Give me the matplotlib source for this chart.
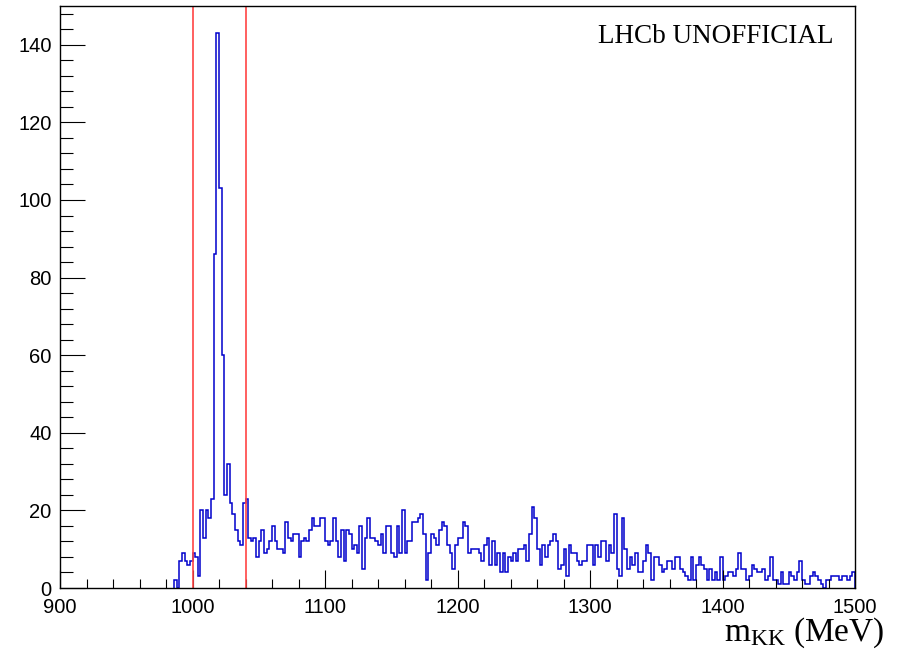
import numpy as np
import matplotlib
matplotlib.use('Agg')
import matplotlib.pyplot as plt
from matplotlib.ticker import MultipleLocator

# m_KK histogram, 2 MeV bins, first filled bin starts at 986 MeV
bin_start = 986
bin_width = 2

peak_counts = [2, 0, 7, 9, 7, 6, 7, 9, 8, 3, 20, 13, 20, 18, 23, 86, 143, 103, 60, 24,
               32, 22, 19, 15, 12, 11, 22, 23, 13]
counts_1044 = [12, 13, 8, 12, 15, 9, 10, 12, 16, 12, 10, 10, 9, 17, 13, 12, 14, 14, 8, 12,
               13, 12, 15, 18, 16, 16, 18, 18, 12, 11, 12, 18, 12]
counts_1110 = [8, 15, 7, 15, 14, 10, 11, 9, 16, 5, 13, 18, 13, 13, 12, 11, 14, 9, 16, 16,
               9, 8, 16, 9, 20, 9, 12]
counts_1164 = [12, 17, 17, 18, 19, 14, 2, 9, 14, 13, 11, 15, 17, 16, 11, 9, 5, 11, 13, 13,
               17, 16, 9, 10, 10, 10, 9, 7, 11, 13, 6]
counts_1226 = [12, 6, 9, 4, 9, 4, 8, 7, 9, 7, 10, 10, 11, 7, 14, 21, 18, 10, 6, 11,
               8, 11, 12, 14, 12, 5, 6, 10, 3, 11, 9, 9, 7]
counts_1292 = [6, 7, 7, 11, 11, 6, 11, 8, 12, 12, 7, 11, 9, 19, 5, 3, 18, 10, 5, 8,
               6, 9, 4, 4, 7, 11, 9]
counts_1346 = [2, 8, 8, 6, 4, 5, 7, 7, 5, 8, 8, 5, 4, 3, 2, 8, 2, 6, 8, 6,
               5, 2, 5, 2, 4, 2, 8, 2, 3, 4]
counts_1406 = [4, 3, 5, 9, 5, 5, 2, 3, 6, 5, 4, 4, 5, 2, 3, 8, 2, 2, 1, 4,
               1, 1, 4, 3, 2, 4, 7]
counts_1460 = [2, 1, 1, 3, 4, 3, 2, 1, 0, 2, 2, 3, 3, 3, 2, 3, 3, 2, 3, 4]

cut_lines = [1000, 1040]
x_range = (900, 1500)
y_range = (0, 150)

counts = np.array(peak_counts + counts_1044 + counts_1110 + counts_1164 + counts_1226
                  + counts_1292 + counts_1346 + counts_1406 + counts_1460)
edges = bin_start + bin_width * np.arange(len(counts) + 1)

fig = plt.figure(figsize=(8.99, 6.55), dpi=100)
ax = fig.add_axes([60 / 899, 67 / 655, 795 / 899, 582 / 655])

ax.stairs(counts, edges, baseline=0, color='#0000cc', linewidth=1.1)
for xc in cut_lines:
    ax.axvline(xc, color='#ff4444', linewidth=1.2)

ax.set_xlim(*x_range)
ax.set_ylim(*y_range)

ax.xaxis.set_major_locator(MultipleLocator(100))
ax.xaxis.set_minor_locator(MultipleLocator(20))
ax.yaxis.set_major_locator(MultipleLocator(20))
ax.yaxis.set_minor_locator(MultipleLocator(4))
ax.tick_params(axis='x', which='major', direction='in', length=13, width=0.8, pad=7,
               labelsize=14.5)
ax.tick_params(axis='x', which='minor', direction='in', length=6.5, width=0.8)
ax.tick_params(axis='y', which='major', direction='in', length=18, width=0.8, pad=6,
               labelsize=14.5)
ax.tick_params(axis='y', which='minor', direction='in', length=9, width=0.8)
for lab in ax.get_xticklabels() + ax.get_yticklabels():
    lab.set_fontfamily('Liberation Sans')
for sp in ax.spines.values():
    sp.set_linewidth(1.0)

fig.text(884 / 899, 1 - 641 / 655, r'$\mathregular{m_{KK}}$ (MeV)', ha='right', va='baseline',
         fontsize=24, family='Liberation Serif')
fig.text(833 / 899, 1 - 43 / 655, 'LHCb UNOFFICIAL', ha='right', va='baseline',
         fontsize=19.5, family='Liberation Serif')

fig.savefig('out.png', dpi=100)
